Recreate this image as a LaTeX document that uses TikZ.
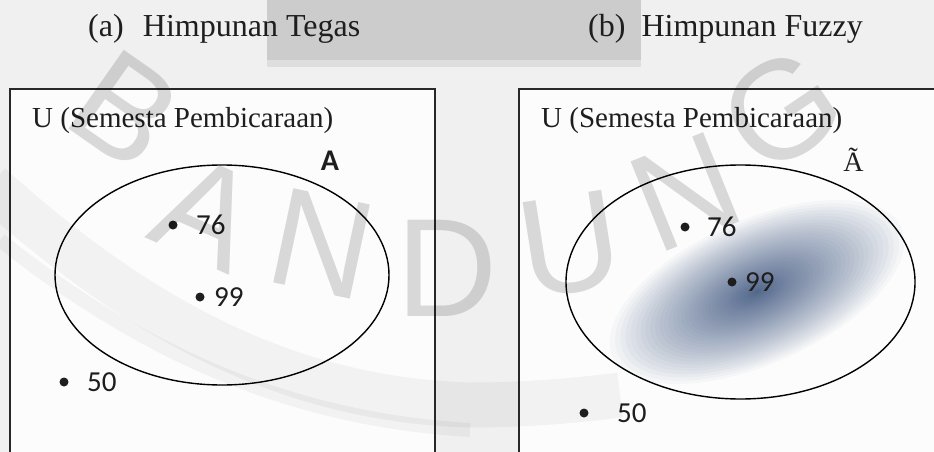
\documentclass[tikz,border=0pt]{standalone}
\usepackage{fontspec}
\setmainfont{Liberation Serif}
\newfontfamily\calib{Carlito}
\newfontfamily\wmfont{Liberation Sans}
\usetikzlibrary{shapes.geometric}
\definecolor{blobc}{RGB}{38,66,115}
\definecolor{boxc}{RGB}{40,40,40}
\definecolor{inkc}{RGB}{30,30,30}
\begin{document}
\begin{tikzpicture}[x=1pt,y=-1pt,
  title/.style={anchor=base west, inner sep=0, text=inkc, font=\fontsize{32}{36}\selectfont},
  univ/.style={anchor=base west, inner sep=0, text=inkc, font=\fontsize{29}{33}\selectfont},
  dotpt/.style={circle, fill=inkc, inner sep=0, minimum size=9pt},
  num/.style={anchor=west, inner sep=0, text=inkc, font=\calib\fontsize{29}{33}\selectfont},
  setell/.style={ellipse, draw=black, line width=1.4pt, inner sep=0},
  frameline/.style={draw=boxc, line width=1.5pt},
  wm/.style={font=\wmfont\fontsize{140}{140}\selectfont, text=black, opacity=0.14, inner sep=0}
]
\useasboundingbox (0,0) rectangle (934,452);
\clip (0,0) rectangle (934,452);
% background and grey band at the top
\fill[black!6] (0,0) rectangle (934,452);
\fill[black!20] (267,0) rectangle (641,60);
\fill[black!13] (267,60) rectangle (641,67);
\fill[black!1] (11,90) rectangle (434,452);
\fill[black!1] (520,90) rectangle (934,452);
% watermark swoosh
\draw[black, opacity=0.04, line width=45pt] (-10,185) .. controls (150,330) and (300,400) .. (470,405) .. controls (530,405) and (580,400) .. (620,395);
\draw[black, opacity=0.04, line width=14pt] (0,240) .. controls (150,360) and (300,420) .. (470,430);

% titles
\node[title] (ta) at (88,37) {(a)\hspace{0.6em}Himpunan Tegas};
\node[title] (tb) at (588,37) {(b)\hspace{0.5em}Himpunan Fuzzy};

% frames (open at the bottom / right, cut by the picture edge)
\draw[frameline] (10,470) -- (10,89) -- (435,89) -- (435,470);
\draw[frameline] (519,470) -- (519,89) -- (950,89);

\node[univ] (ua) at (32,127) {U (Semesta Pembicaraan)};
\node[univ] (ub) at (541,127) {U (Semesta Pembicaraan)};

% fuzzy blob (membership density)
\foreach \i in {1,...,44}{
  \pgfmathsetmacro{\s}{(\i/44)^1.6}
  \fill[blobc, opacity=0.033, rotate around={24:(757,292)}]
    (757,292) ellipse [x radius={158*\s}, y radius={72*\s}];
}

% sets
\node[setell, minimum width=334pt, minimum height=220pt] (setA) at (222,275) {};
\node[setell, minimum width=349pt, minimum height=234pt] (setF) at (740.5,282) {};
\node[inner sep=0, text=inkc, font=\calib\bfseries\fontsize{30}{34}\selectfont] (labA) at (330,161) {A};
\node[anchor=base, inner sep=0, text=inkc, font=\fontsize{28}{32}\selectfont] (labF) at (853.5,171) {Ã};

% elements, crisp set
\node[dotpt] (a76) at (173,225) {};
\node[num] (a76t) at (196,225) {76};
\node[dotpt] (a99) at (200,297) {};
\node[num] (a99t) at (214,297) {99};
\node[dotpt] (a50) at (64,382) {};
\node[num] (a50t) at (87,382) {50};

% elements, fuzzy set
\node[dotpt] (f76) at (685,227) {};
\node[num] (f76t) at (707,227) {76};
\node[dotpt] (f99) at (732,282) {};
\node[num] (f99t) at (745,282) {99};
\node[dotpt] (f50) at (584,413) {};
\node[num] (f50t) at (617,413) {50};

% watermark letters
\node[wm, rotate=-35] (w1) at (125,110) {B};
\node[wm, rotate=-24] (w2) at (207,212) {A};
\node[wm, rotate=-12] (w3) at (322,244) {N};
\node[wm, rotate=0] (w4) at (447,268) {D};
\node[wm, rotate=9] (w5) at (570,245) {U};
\node[wm, rotate=22] (w6) at (685,192) {N};
\node[wm, rotate=34] (w7) at (782,110) {G};
\end{tikzpicture}
\end{document}
